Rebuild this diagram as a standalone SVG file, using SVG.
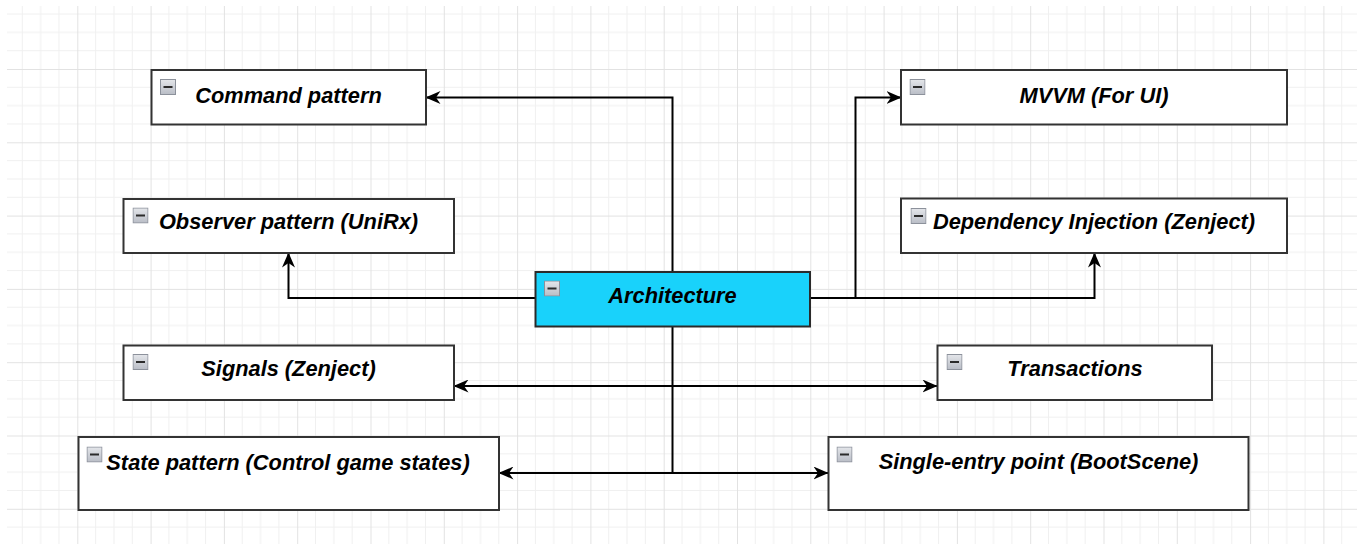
<svg xmlns="http://www.w3.org/2000/svg" width="1357" height="544" viewBox="0 0 1357 544">
  <style>
    .box { fill: #ffffff; stroke: #333333; stroke-width: 2; }
    .root { fill: #19d2fb; stroke: #2a2a2a; stroke-width: 2; }
    .label { font-family: "Liberation Sans", Arial, sans-serif; font-size: 21.8px; font-weight: bold; font-style: italic; fill: #000000; text-anchor: middle; }
    .wire { fill: none; stroke: #000000; stroke-width: 2; }
    .minor { stroke: #f0f0f0; stroke-width: 1; }
    .major { stroke: #e2e2e2; stroke-width: 1; }
  </style>
  <defs>
    <pattern id="grid" patternUnits="userSpaceOnUse" x="4" y="-4.3" width="73.3" height="73.3">
      <line class="minor" x1="18.3" y1="0" x2="18.3" y2="73.3"/>
      <line class="minor" x1="36.65" y1="0" x2="36.65" y2="73.3"/>
      <line class="minor" x1="55" y1="0" x2="55" y2="73.3"/>
      <line class="minor" x1="0" y1="18.3" x2="73.3" y2="18.3"/>
      <line class="minor" x1="0" y1="36.65" x2="73.3" y2="36.65"/>
      <line class="minor" x1="0" y1="55" x2="73.3" y2="55"/>
      <line class="major" x1="0.5" y1="0" x2="0.5" y2="73.3"/>
      <line class="major" x1="0" y1="0.5" x2="73.3" y2="0.5"/>
    </pattern>
    <linearGradient id="iconFill" x1="0" y1="0" x2="0" y2="1">
      <stop offset="0" stop-color="#e4e6ea"/>
      <stop offset="1" stop-color="#b9bdc6"/>
    </linearGradient>
    <symbol id="collapse" viewBox="0 0 16 16">
      <rect x="0.5" y="0.5" width="15" height="15" fill="url(#iconFill)" stroke="#8c919b" stroke-width="1"/>
      <rect x="3.5" y="7" width="9" height="2" fill="#2b2b2b"/>
    </symbol>
    <marker id="arrow" viewBox="0 0 15 13" refX="14.5" refY="6.5" markerWidth="15" markerHeight="13" markerUnits="userSpaceOnUse" orient="auto-start-reverse">
      <path d="M0,0 L15,6.5 L0,13 L4.5,6.5 Z" fill="#000000"/>
    </marker>
  </defs>

  <!-- background and grid -->
  <rect x="0" y="0" width="1357" height="544" fill="#ffffff"/>
  <rect x="7" y="6" width="1350" height="538" fill="url(#grid)"/>

  <!-- connectors -->
  <g id="connectors">
    <path class="wire" d="M672.5,272 V97.5 H426" marker-end="url(#arrow)"/>
    <path class="wire" d="M535.5,298 H288.5 V253" marker-end="url(#arrow)"/>
    <path class="wire" d="M810,298 H855.5 V97.5 H901" marker-end="url(#arrow)"/>
    <path class="wire" d="M810,298 H1094.5 V253" marker-end="url(#arrow)"/>
    <path class="wire" d="M672.5,327 V473"/>
    <path class="wire" d="M454,386 H937" marker-start="url(#arrow)" marker-end="url(#arrow)"/>
    <path class="wire" d="M499,473 H828" marker-start="url(#arrow)" marker-end="url(#arrow)"/>
  </g>

  <!-- nodes -->
  <g id="command-pattern">
    <rect class="box" x="151.5" y="70" width="274.5" height="54.5"/>
    <use href="#collapse" x="160" y="79" width="16" height="16"/>
    <text class="label" x="288.5" y="103">Command pattern</text>
  </g>
  <g id="observer-pattern">
    <rect class="box" x="123.5" y="199" width="330.5" height="54"/>
    <use href="#collapse" x="132.5" y="207.5" width="16" height="16"/>
    <text class="label" x="288.5" y="229">Observer pattern (UniRx)</text>
  </g>
  <g id="signals">
    <rect class="box" x="123.5" y="345.5" width="330.5" height="54.5"/>
    <use href="#collapse" x="132.5" y="354" width="16" height="16"/>
    <text class="label" x="288.5" y="376">Signals (Zenject)</text>
  </g>
  <g id="state-pattern">
    <rect class="box" x="78.5" y="437" width="420.5" height="73"/>
    <use href="#collapse" x="86.5" y="446.5" width="16" height="16"/>
    <text class="label" x="288" y="469.5">State pattern (Control game states)</text>
  </g>
  <g id="architecture">
    <rect class="root" x="535.5" y="272" width="274.5" height="54.5"/>
    <use href="#collapse" x="544" y="280.5" width="16" height="16"/>
    <text class="label" x="672.5" y="303">Architecture</text>
  </g>
  <g id="mvvm">
    <rect class="box" x="901" y="70" width="386" height="54.5"/>
    <use href="#collapse" x="909.5" y="79" width="16" height="16"/>
    <text class="label" x="1094" y="103">MVVM (For UI)</text>
  </g>
  <g id="dependency-injection">
    <rect class="box" x="901" y="198.5" width="386" height="54.5"/>
    <use href="#collapse" x="910.5" y="208" width="16" height="16"/>
    <text class="label" x="1094" y="229">Dependency Injection (Zenject)</text>
  </g>
  <g id="transactions">
    <rect class="box" x="937.5" y="345.5" width="274.5" height="54.5"/>
    <use href="#collapse" x="946.5" y="354" width="16" height="16"/>
    <text class="label" x="1075" y="376">Transactions</text>
  </g>
  <g id="single-entry-point">
    <rect class="box" x="828.5" y="437" width="420" height="73"/>
    <use href="#collapse" x="836.5" y="446.5" width="16" height="16"/>
    <text class="label" x="1038.5" y="469">Single-entry point (BootScene)</text>
  </g>
</svg>
